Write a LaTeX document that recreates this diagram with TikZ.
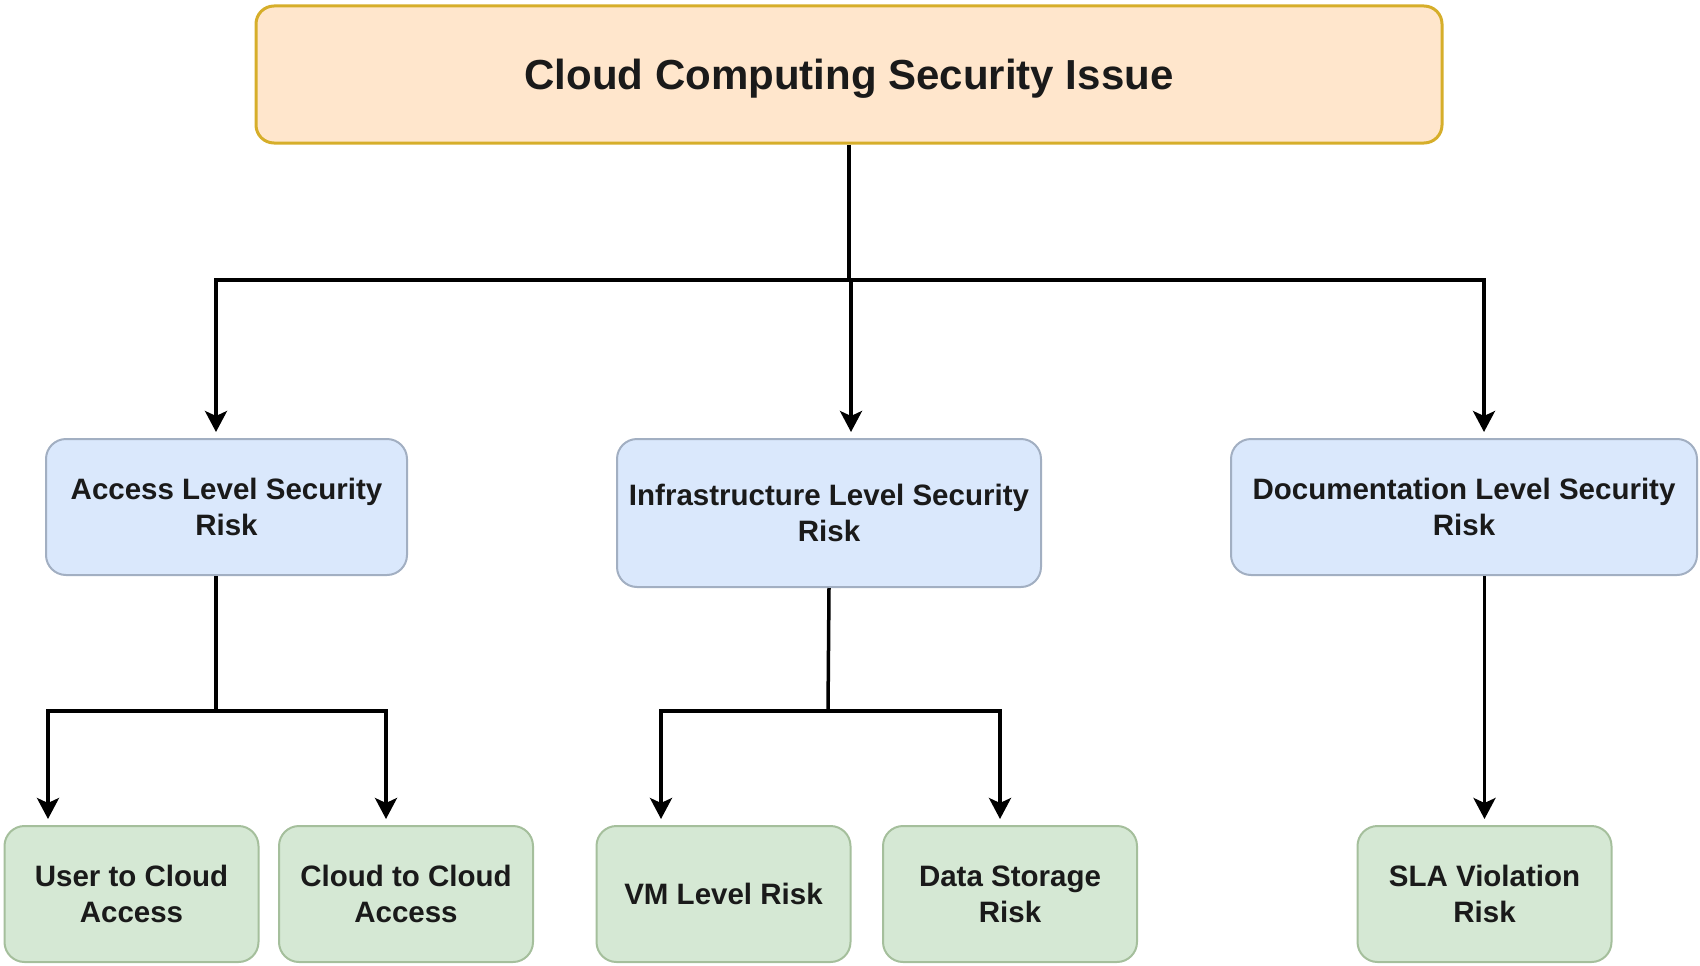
\documentclass[tikz,border=0pt]{standalone}
\usepackage{fontspec}
\setmainfont{Liberation Sans}
\usetikzlibrary{arrows.meta}
\definecolor{topfill}{HTML}{FFE6CC}
\definecolor{topdraw}{HTML}{D6AE2A}
\definecolor{midfill}{HTML}{DAE8FC}
\definecolor{middraw}{HTML}{A2AFC2}
\definecolor{lowfill}{HTML}{D5E8D4}
\definecolor{lowdraw}{HTML}{A5BF9C}
\definecolor{ink}{HTML}{1A1A1A}
\tikzset{
  topbox/.style={draw=topdraw, fill=topfill, line width=3pt, rounded corners=18pt,
    minimum width=1186pt, minimum height=137pt, inner sep=0pt, text depth=0pt,
    font=\fontsize{42}{50}\selectfont\bfseries, text=ink},
  midbox/.style={draw=middraw, fill=midfill, line width=2pt, rounded corners=20pt,
    minimum height=136pt, inner sep=0pt, align=center,
    font=\fontsize{29.5}{36}\selectfont\bfseries, text=ink},
  lowbox/.style={draw=lowdraw, fill=lowfill, line width=2pt, rounded corners=20pt,
    minimum height=136pt, minimum width=254pt, inner sep=0pt, align=center,
    font=\fontsize{29.5}{36}\selectfont\bfseries, text=ink},
  conn/.style={draw=black, line width=3.5pt},
  arr/.style={conn, -{Stealth[length=21pt, width=22pt, inset=5pt]}, shorten >=6pt},
}
\begin{document}
\begin{tikzpicture}[x=1pt, y=-1pt]
\useasboundingbox (0,0) rectangle (1700,966);
% nodes
\node[topbox] (top) at (849,74.5) {Cloud Computing Security Issue};
\node[midbox, minimum width=361pt] (access) at (226.5,507) {Access Level Security\\Risk};
\node[midbox, minimum width=424pt, minimum height=148pt] (infra) at (829,513) {Infrastructure Level Security\\Risk};
\node[midbox, minimum width=466pt] (doc) at (1464,507) {Documentation Level Security\\Risk};
\node[lowbox] (user) at (131.5,894) {User to Cloud\\Access};
\node[lowbox] (c2c) at (406,894) {Cloud to Cloud\\Access};
\node[lowbox] (vm) at (723.5,894) {VM Level Risk};
\node[lowbox] (data) at (1010,894) {Data Storage\\Risk};
\node[lowbox] (sla) at (1484.5,894) {SLA Violation\\Risk};
% bus coordinates
\coordinate (busC) at (849,280);
\coordinate (busL) at (216,280);
\coordinate (busM) at (851,280);
\coordinate (busR) at (1484,280);
\coordinate (aStem) at (216,575);
\coordinate (aJ) at (216,711);
\coordinate (aL) at (48,711);
\coordinate (aR) at (386,711);
\coordinate (iJ) at (828,711);
\coordinate (iL) at (661,711);
\coordinate (iR) at (1000,711);
% connectors
\draw[conn] (top.south) -- (busC);
\draw[conn, line cap=rect] (busL) -- (busR);
\draw[arr] (busL) -- (busL |- access.north);
\draw[arr] (busM) -- (busM |- infra.north);
\draw[arr] (busR) -- (busR |- doc.north);
\draw[conn] (aStem |- access.south) -- (aJ);
\draw[conn, line cap=rect] (aL) -- (aR);
\draw[arr] (aL) -- (aL |- user.north);
\draw[arr] (aR) -- (aR |- c2c.north);
\draw[conn] (infra.south) -- (iJ);
\draw[conn, line cap=rect] (iL) -- (iR);
\draw[arr] (iL) -- (iL |- vm.north);
\draw[arr] (iR) -- (iR |- data.north);
\draw[arr] (doc.south -| sla.north) -- (sla.north);
\end{tikzpicture}
\end{document}
